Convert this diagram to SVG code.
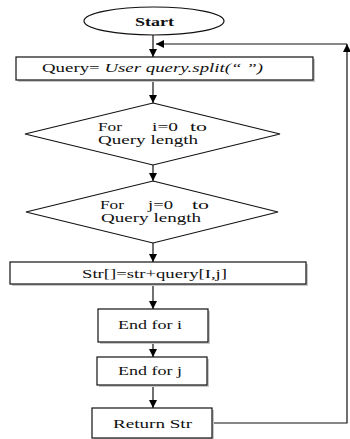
<svg xmlns="http://www.w3.org/2000/svg" width="350" height="439" viewBox="0 0 350 439">
  <defs>
    <marker id="arrow" viewBox="0 0 10 10" refX="10" refY="5" markerWidth="8" markerHeight="8" markerUnits="userSpaceOnUse" orient="auto">
      <path d="M0,0 L10,5 L0,10 Z" fill="#000"/>
    </marker>
  </defs>
  <style>
    .shape { fill: #fff; stroke: #111; stroke-width: 1.2; }
    .shadow { fill: #c8c8c8; }
    .flow { fill: none; stroke: #111; stroke-width: 1.2; marker-end: url(#arrow); }
    text { font-family: "Liberation Serif", "Times New Roman", serif; font-size: 12px; fill: #111; }
    .mid { text-anchor: middle; }
    .cond { font-size: 11.5px; }
  </style>
  <rect width="350" height="439" fill="#fff"/>

  <!-- flow connectors -->
  <g id="connectors">
    <path class="flow" d="M153,35 V57"/>
    <path class="flow" d="M153,80 V103"/>
    <path class="flow" d="M153,165 V181"/>
    <path class="flow" d="M153,243 V262"/>
    <path class="flow" d="M153,284 V309"/>
    <path class="flow" d="M153,342 V357"/>
    <path class="flow" d="M153,385 V408"/>
    <!-- loop back from the return box to the top -->
    <path class="flow" d="M212,423 H347 V44"/>
    <path class="flow" d="M347,44 H156"/>
  </g>

  <g id="start">
    <ellipse class="shape" cx="154" cy="21" rx="70" ry="14"/>
    <text x="135" y="26" textLength="39" lengthAdjust="spacingAndGlyphs" font-weight="bold">Start</text>
  </g>

  <g id="split-query">
    <rect class="shadow" x="18" y="59" width="297" height="23"/>
    <rect class="shape" x="16" y="57" width="297" height="23"/>
    <text x="42" y="72" textLength="221" lengthAdjust="spacingAndGlyphs">Query= <tspan font-style="italic">User query.split(“ ”)</tspan></text>
  </g>

  <g id="loop-i">
    <polygon class="shape" points="153,103 280,134 153,165 25,134"/>
    <text class="cond" y="131"><tspan x="98" textLength="24" lengthAdjust="spacingAndGlyphs">For</tspan><tspan x="152" textLength="26" lengthAdjust="spacingAndGlyphs">i=0</tspan><tspan x="190" textLength="17" lengthAdjust="spacingAndGlyphs">to</tspan></text>
    <text class="cond" x="98" y="144" textLength="100" lengthAdjust="spacingAndGlyphs">Query length</text>
  </g>

  <g id="loop-j">
    <polygon class="shape" points="153,181 278,212 153,243 26,212"/>
    <text class="cond" y="209"><tspan x="100" textLength="24" lengthAdjust="spacingAndGlyphs">For</tspan><tspan x="148" textLength="25" lengthAdjust="spacingAndGlyphs">j=0</tspan><tspan x="192" textLength="17" lengthAdjust="spacingAndGlyphs">to</tspan></text>
    <text class="cond" x="101" y="222" textLength="100" lengthAdjust="spacingAndGlyphs">Query length</text>
  </g>

  <g id="append">
    <rect class="shadow" x="12" y="264" width="296" height="22"/>
    <rect class="shape" x="10" y="262" width="296" height="22"/>
    <text x="82" y="278" textLength="145" lengthAdjust="spacingAndGlyphs">Str[]=str+query[I,j]</text>
  </g>

  <g id="end-i">
    <rect class="shadow" x="100" y="311" width="110" height="33"/>
    <rect class="shape" x="98" y="309" width="110" height="33"/>
    <text x="118" y="329" textLength="64" lengthAdjust="spacingAndGlyphs">End for i</text>
  </g>

  <g id="end-j">
    <rect class="shadow" x="99" y="359" width="110" height="28"/>
    <rect class="shape" x="97" y="357" width="110" height="28"/>
    <text x="118" y="375" textLength="64" lengthAdjust="spacingAndGlyphs">End for j</text>
  </g>

  <g id="return">
    <rect class="shadow" x="94" y="410" width="120" height="29"/>
    <rect class="shape" x="92" y="408" width="120" height="30"/>
    <text x="113" y="428" textLength="79" lengthAdjust="spacingAndGlyphs">Return Str</text>
  </g>
</svg>
